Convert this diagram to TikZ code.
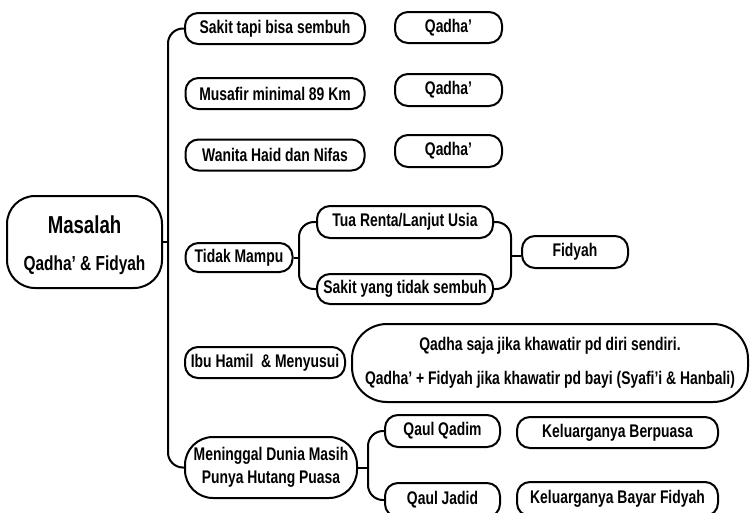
\documentclass[tikz,border=0pt]{standalone}
\usepackage{fontspec}
\setmainfont{Liberation Sans}[FakeStretch=0.76]
\tikzset{
  bx/.style={draw, line width=2pt, rounded corners=13pt, inner sep=0pt, align=center,
    font=\fontsize{18.3}{20}\selectfont\bfseries},
  ln/.style={line width=2pt, rounded corners=15pt},
  txt/.style={inner sep=0pt}
}
\begin{document}
\begin{tikzpicture}[x=1pt,y=-1pt]
\useasboundingbox (0,0) rectangle (750,512);
% root
\node[bx, rounded corners=28pt, minimum width=155pt, minimum height=92pt] (main) at (84.5,242) {};
\node[txt, font=\fontsize{24.5}{26}\selectfont\bfseries] (mainA) at (84.5,225) {Masalah};
\node[txt, font=\fontsize{20.3}{22}\selectfont\bfseries] (mainB) at (84.5,265) {Qadha’ \& Fidyah};
% first column
\node[bx, minimum width=180pt, minimum height=31pt] (sakit) at (275,28.5) {Sakit tapi bisa sembuh};
\node[bx, minimum width=179pt, minimum height=31pt] (musafir) at (275,93.5) {Musafir minimal 89 Km};
\node[bx, minimum width=179pt, minimum height=31pt] (wanita) at (275,155) {Wanita Haid dan Nifas};
\node[bx, minimum width=107pt, minimum height=29pt] (tidak) at (239,257.5) {Tidak Mampu};
\node[bx, minimum width=160pt, minimum height=31pt] (ibu) at (265,362.5) {Ibu Hamil \ \& Menyusui};
\node[bx, rounded corners=28pt, minimum width=172pt, minimum height=61pt,
  font=\fontsize{18.3}{23}\selectfont\bfseries] (mening) at (271,467.5) {Meninggal Dunia Masih\\Punya Hutang Puasa};
% results
\node[bx, minimum width=107pt, minimum height=31pt] (q1) at (448.5,27.5) {Qadha’};
\node[bx, minimum width=107pt, minimum height=32pt] (q2) at (448.5,90) {Qadha’};
\node[bx, minimum width=107pt, minimum height=32pt] (q3) at (448.5,151) {Qadha’};
\node[bx, minimum width=176pt, minimum height=32pt] (tua) at (405,222) {Tua Renta/Lanjut Usia};
\node[bx, minimum width=176pt, minimum height=30pt] (sakit2) at (405,289) {Sakit yang tidak sembuh};
\node[bx, minimum width=106pt, minimum height=32pt] (fidyah) at (575,252) {Fidyah};
\node[bx, rounded corners=35pt, minimum width=396pt, minimum height=78pt,
  font=\fontsize{18.3}{34}\selectfont\bfseries] (big) at (550,363)
  {Qadha saja jika khawatir pd diri sendiri.\\Qadha’ + Fidyah jika khawatir pd bayi (Syafi’i \& Hanbali)};
\node[bx, minimum width=115pt, minimum height=32pt] (qadim) at (442.5,431) {Qaul Qadim};
\node[bx, minimum width=115pt, minimum height=34pt] (jadid) at (442.5,500) {Qaul Jadid};
\node[bx, minimum width=201pt, minimum height=31pt] (kel1) at (617.5,432.5) {Keluarganya Berpuasa};
\node[bx, minimum width=201pt, minimum height=34pt] (kel2) at (617.5,499) {Keluarganya Bayar Fidyah};
% connectors
\coordinate (tr) at (168,242);
\draw[ln] (main.east) -- (tr);
\draw[ln] (sakit.west) -| (tr) |- (mening.west);
\coordinate (tb) at (299,257.5);
\draw[ln] (tidak.east) -- (tb);
\draw[ln] (tua.west) -| (tb) |- (sakit2.west);
\coordinate (rb) at (511,256);
\draw[ln] (tua.east) -| (rb) |- (sakit2.east);
\draw[ln] (rb) -- (rb -| fidyah.west);
\coordinate (mb) at (368,467.5);
\draw[ln] (mening.east) -- (mb);
\draw[ln] (qadim.west) -| (mb) |- (jadid.west);
\end{tikzpicture}
\end{document}
